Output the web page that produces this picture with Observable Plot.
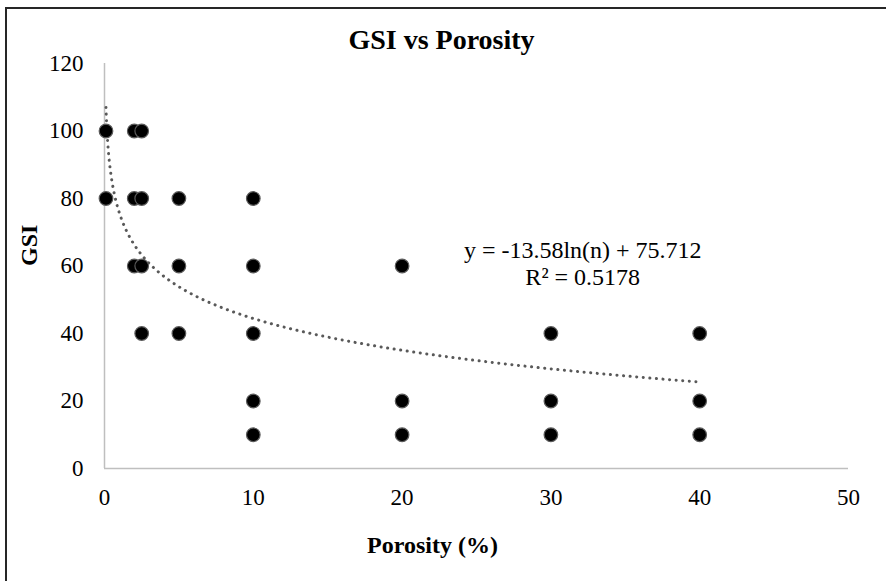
<!DOCTYPE html>
<html>
<head>
<meta charset="utf-8">
<script src="https://cdn.jsdelivr.net/npm/d3@7"></script>
<script src="https://cdn.jsdelivr.net/npm/@observablehq/plot@0.6"></script>
<style>
  html, body { margin: 0; padding: 0; background: #fff; overflow: hidden; }
  #wrap { position: relative; width: 886px; height: 581px; }
  #border { position: absolute; left: 5px; top: 7px; width: 900px; height: 600px;
            border-top: 2px solid #262626; border-left: 2px solid #262626; pointer-events: none; }
</style>
</head>
<body>
<div id="wrap"><div id="border"></div></div>
<script>
const porosity = [0.1, 0.1, 2, 2.5, 2, 2.5, 2, 2.5, 2.5, 5, 5, 5, 10, 10, 10, 10, 10, 20, 20, 20, 30, 30, 30, 40, 40, 40];
const gsi      = [100, 80, 100, 100, 80, 80, 60, 60, 40, 80, 60, 40, 80, 60, 40, 20, 10, 60, 20, 10, 40, 20, 10, 40, 20, 10];
const xTicks = [0, 10, 20, 30, 40, 50];
const yTicks = [0, 20, 40, 60, 80, 100, 120];
// Fitted trendline shown on the chart: y = -13.58 ln(n) + 75.712, R² = 0.5178
const trendA = -13.58, trendB = 75.712, trendStart = 0.1, trendEnd = 40;
const titleText = "GSI vs Porosity";
const xLabel = "Porosity (%)";
const yLabel = "GSI";
const eqText = "y = -13.58ln(n) + 75.712";
const r2Text = "R² = 0.5178";

const points = porosity.map((x, i) => ({x, y: gsi[i]}));
const trend = d3.range(0, 401).map(i => {
  const x = trendStart * Math.pow(trendEnd / trendStart, i / 400);
  return {x, y: trendA * Math.log(x) + trendB};
});

const font = "'Liberation Serif', 'Times New Roman', serif";
const chart = Plot.plot({
  width: 886,
  height: 581,
  marginLeft: 104,
  marginRight: 38,
  marginTop: 63,
  marginBottom: 113,
  style: {fontFamily: font, color: "#000", background: "transparent"},
  x: {domain: [0, 50]},
  y: {domain: [0, 120]},
  marks: [
    Plot.axisX(xTicks, {tickSize: 0, tickPadding: 20, fontSize: 23, label: null, fill: "#000"}),
    Plot.axisY(yTicks, {tickSize: 0, tickPadding: 21, fontSize: 23, label: null, fill: "#000"}),
    Plot.ruleY([0], {stroke: "#bfbfbf", strokeWidth: 1.5}),
    Plot.ruleX([0], {stroke: "#bfbfbf", strokeWidth: 1.5}),
    Plot.line(trend, {x: "x", y: "y", stroke: "#595959", strokeWidth: 3,
      strokeDasharray: "0.1,6.5", strokeLinecap: "round"}),
    Plot.dot(points, {x: "x", y: "y", r: 6.8, fill: "#000", stroke: "#5a5a5a", strokeWidth: 1.2}),
    Plot.text([eqText], {x: 32.14, y: 64.6, text: d => d, fontSize: 24, fill: "#000"}),
    Plot.text([r2Text], {x: 32.14, y: 56.6, text: d => d, fontSize: 24, fill: "#000"}),
    Plot.text([titleText], {frameAnchor: "top", dx: -35, dy: -34, text: d => d,
      fontSize: 28, fontWeight: "bold", fill: "#000"}),
    Plot.text([xLabel], {frameAnchor: "bottom", dx: -44, dy: 84, text: d => d,
      fontSize: 24, fontWeight: "bold", fill: "#000"}),
    Plot.text([yLabel], {frameAnchor: "left", dx: -75, dy: 0, rotate: -90, text: d => d,
      fontSize: 24, fontWeight: "bold", fill: "#000"})
  ]
});
document.getElementById("wrap").prepend(chart);
</script>
</body>
</html>
